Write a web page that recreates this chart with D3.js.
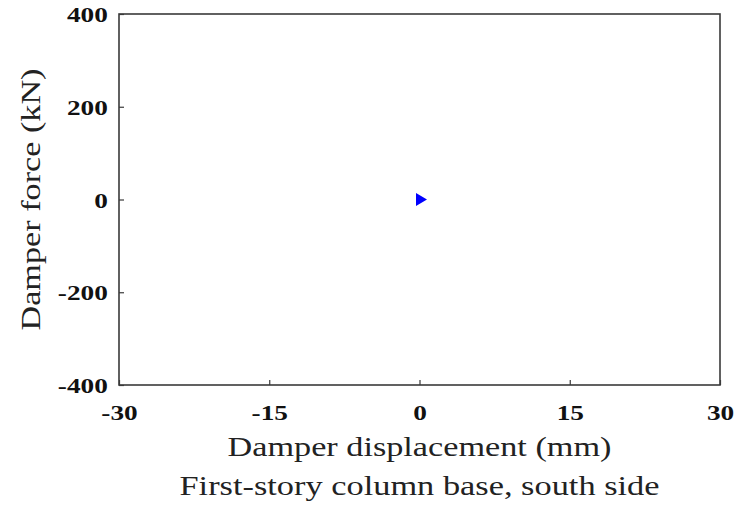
<!DOCTYPE html>
<html><head><meta charset="utf-8">
<script src="https://cdn.jsdelivr.net/npm/d3@7"></script>
<style>body{margin:0;background:#fff;} svg{display:block;}</style>
</head><body>
<svg id="c" width="741" height="505"></svg>
<script>
const xTicks = [-30, -15, 0, 15, 30];
const yTicks = [-400, -200, 0, 200, 400];
const pointsX = [0];
const pointsY = [0];
const xLabel = "Damper displacement (mm)";
const yLabel = "Damper force (kN)";
const title = "First-story column base, south side";

const svg = d3.select("#c");
const m = {l:119, r:720, t:14, b:385};
const x = d3.scaleLinear().domain([-30,30]).range([m.l, m.r]);
const y = d3.scaleLinear().domain([-400,400]).range([m.b, m.t]);

const serif = "'Liberation Serif','Times New Roman',serif";
const fmt = d => String(d); // hyphen-minus as in the reference

// frame
svg.append("rect").attr("x",m.l).attr("y",m.t).attr("width",m.r-m.l).attr("height",m.b-m.t)
  .attr("fill","none").attr("stroke","#3a3a3a").attr("stroke-width",1.6);

const gx = svg.append("g").attr("transform",`translate(0,${m.b})`)
  .call(d3.axisBottom(x).tickValues(xTicks).tickSize(-5).tickPadding(19).tickFormat(fmt));
const gy = svg.append("g").attr("transform",`translate(${m.l},0)`)
  .call(d3.axisLeft(y).tickValues(yTicks).tickSize(-5).tickPadding(9).tickFormat(fmt));
[gx,gy].forEach(g=>{
  g.select(".domain").remove();
  g.selectAll(".tick line").attr("stroke","#3a3a3a").attr("stroke-width",1.2);
  g.selectAll("text").attr("fill","#111").style("font-family",serif).style("font-weight","bold").style("font-size","22px");
});
gx.selectAll("text").attr("dy","0.71em").attr("transform","scale(1.24,1)");
gy.selectAll("text").attr("dy","0.35em").attr("transform","scale(1.24,1)");

// markers (right-pointing triangle)
const triRight = {draw(ctx){ ctx.moveTo(-4.5,-6.5); ctx.lineTo(6.5,0); ctx.lineTo(-4.5,6.5); ctx.closePath(); }};
svg.selectAll("path.pt").data(pointsX.map((d,i)=>[d,pointsY[i]])).join("path")
  .attr("class","pt").attr("d",d3.symbol().type(triRight)())
  .attr("transform",d=>`translate(${x(d[0])+1},${y(d[1])})`)
  .attr("fill","#0000ff");

// labels
svg.append("text").attr("x",(m.l+m.r)/2).attr("y",456).attr("text-anchor","middle")
  .attr("textLength",384).attr("lengthAdjust","spacingAndGlyphs")
  .style("font-family",serif).style("font-size","28px").attr("fill","#222").text(xLabel);
svg.append("text").attr("x",(m.l+m.r)/2).attr("y",495).attr("text-anchor","middle")
  .attr("textLength",480).attr("lengthAdjust","spacingAndGlyphs")
  .style("font-family",serif).style("font-size","28px").attr("fill","#222").text(title);
svg.append("text").attr("transform",`translate(40,${(m.t+m.b)/2}) rotate(-90)`).attr("text-anchor","middle")
  .attr("textLength",262).attr("lengthAdjust","spacingAndGlyphs")
  .style("font-family",serif).style("font-size","28px").attr("fill","#222").text(yLabel);
</script>
</body></html>
